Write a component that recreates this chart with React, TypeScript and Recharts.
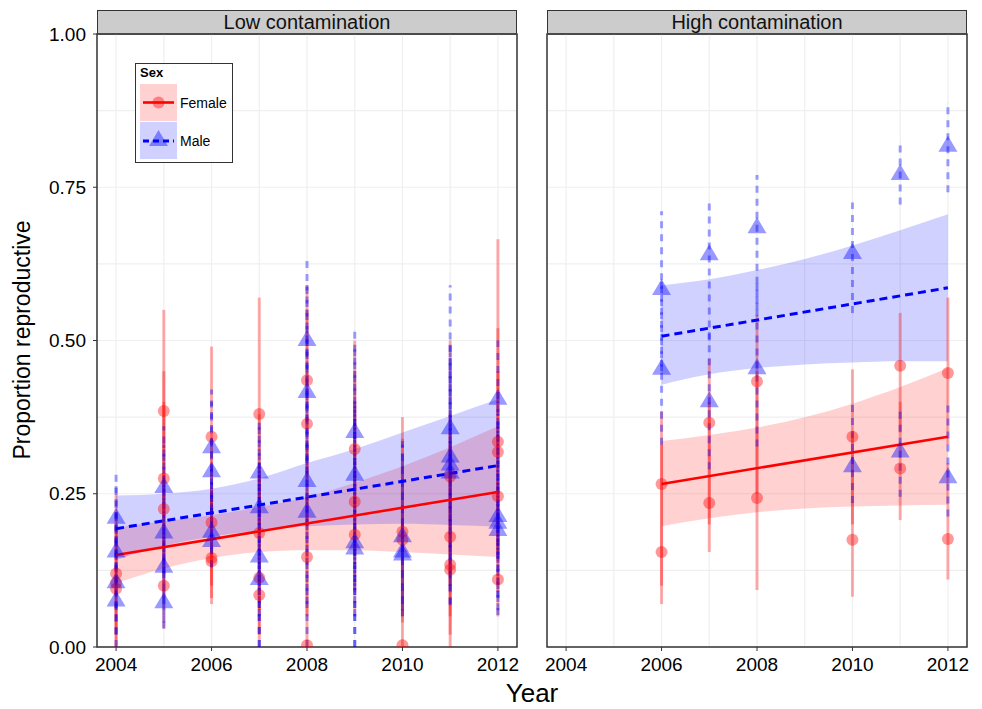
import React from "react";
import {
  ComposedChart,
  XAxis,
  YAxis,
  CartesianGrid,
  Scatter,
  ErrorBar,
  Area,
  Line,
  ReferenceArea,
} from "recharts";

// [year, estimate, lower, upper]
type Obs = [number, number, number, number];
// [year, lower, upper]
type Band = [number, number, number];
// [year, fitted]
type Fit = [number, number];

const yearTicks = [2004, 2006, 2008, 2010, 2012];
const yearGrid = [2004, 2005, 2006, 2007, 2008, 2009, 2010, 2011, 2012];
const propTicks = [0, 0.25, 0.5, 0.75, 1];
const propGrid = [0, 0.125, 0.25, 0.375, 0.5, 0.625, 0.75, 0.875, 1];

// Low contamination sites
const lowFemale: Obs[] = [
  [2004, 0.12, 0.0, 0.22], [2004, 0.105, 0.0, 0.25], [2004, 0.095, 0.02, 0.19],
  [2005, 0.385, 0.21, 0.55], [2005, 0.275, 0.12, 0.45], [2005, 0.225, 0.08, 0.4], [2005, 0.1, 0.03, 0.27],
  [2006, 0.343, 0.21, 0.49], [2006, 0.203, 0.1, 0.34], [2006, 0.145, 0.07, 0.26], [2006, 0.14, 0.08, 0.25],
  [2007, 0.38, 0.2, 0.57], [2007, 0.186, 0.06, 0.38], [2007, 0.113, 0.02, 0.3], [2007, 0.085, 0.0, 0.28],
  [2008, 0.435, 0.28, 0.59], [2008, 0.364, 0.2, 0.55], [2008, 0.147, 0.05, 0.33], [2008, 0.003, 0.0, 0.25],
  [2009, 0.323, 0.15, 0.5], [2009, 0.237, 0.09, 0.45], [2009, 0.183, 0.05, 0.4],
  [2010, 0.188, 0.05, 0.375], [2010, 0.175, 0.04, 0.34], [2010, 0.003, 0.0, 0.22],
  [2011, 0.278, 0.1, 0.5], [2011, 0.18, 0.05, 0.38], [2011, 0.134, 0.02, 0.35], [2011, 0.126, 0.0, 0.33],
  [2012, 0.335, 0.15, 0.665], [2012, 0.318, 0.14, 0.52], [2012, 0.246, 0.09, 0.45], [2012, 0.11, 0.05, 0.27],
];

const lowMale: Obs[] = [
  [2004, 0.21, 0.1, 0.29], [2004, 0.155, 0.06, 0.27], [2004, 0.105, 0.02, 0.22], [2004, 0.075, 0.0, 0.2],
  [2005, 0.26, 0.12, 0.36], [2005, 0.186, 0.07, 0.33], [2005, 0.13, 0.04, 0.28], [2005, 0.072, 0.03, 0.18],
  [2006, 0.325, 0.2, 0.42], [2006, 0.286, 0.16, 0.4], [2006, 0.187, 0.13, 0.3], [2006, 0.172, 0.13, 0.28],
  [2007, 0.284, 0.1, 0.37], [2007, 0.227, 0.05, 0.36], [2007, 0.147, 0.0, 0.3], [2007, 0.11, 0.0, 0.27],
  [2008, 0.5, 0.3, 0.635], [2008, 0.415, 0.2, 0.59], [2008, 0.27, 0.07, 0.5], [2008, 0.22, 0.0, 0.45],
  [2009, 0.35, 0.1, 0.515], [2009, 0.28, 0.05, 0.49], [2009, 0.17, 0.0, 0.4], [2009, 0.16, 0.0, 0.38],
  [2010, 0.18, 0.07, 0.346], [2010, 0.155, 0.05, 0.33], [2010, 0.15, 0.06, 0.31],
  [2011, 0.356, 0.12, 0.59], [2011, 0.31, 0.1, 0.5], [2011, 0.297, 0.07, 0.48], [2011, 0.284, 0.068, 0.46],
  [2012, 0.404, 0.15, 0.5], [2012, 0.213, 0.08, 0.4], [2012, 0.202, 0.06, 0.38], [2012, 0.19, 0.052, 0.36],
];

const lowFemaleBand: Band[] = [
  [2004, 0.104, 0.195], [2005, 0.128, 0.205], [2006, 0.145, 0.215], [2007, 0.155, 0.228],
  [2008, 0.158, 0.245], [2009, 0.158, 0.268], [2010, 0.155, 0.295], [2011, 0.151, 0.326], [2012, 0.147, 0.36],
];
const lowMaleBand: Band[] = [
  [2004, 0.142, 0.247], [2005, 0.165, 0.25], [2006, 0.18, 0.258], [2007, 0.19, 0.275],
  [2008, 0.197, 0.3], [2009, 0.2, 0.323], [2010, 0.201, 0.35], [2011, 0.199, 0.377], [2012, 0.196, 0.404],
];
const lowFemaleFit: Fit[] = [[2004, 0.15], [2012, 0.253]];
const lowMaleFit: Fit[] = [[2004, 0.193], [2012, 0.296]];

// High contamination sites
const highFemale: Obs[] = [
  [2006, 0.266, 0.1, 0.385], [2006, 0.155, 0.07, 0.33],
  [2007, 0.366, 0.2, 0.47], [2007, 0.235, 0.155, 0.4],
  [2008, 0.433, 0.25, 0.542], [2008, 0.243, 0.093, 0.45],
  [2010, 0.343, 0.2, 0.453], [2010, 0.175, 0.082, 0.35],
  [2011, 0.459, 0.35, 0.545], [2011, 0.291, 0.207, 0.4],
  [2012, 0.447, 0.33, 0.57], [2012, 0.176, 0.11, 0.3],
];
const highMale: Obs[] = [
  [2006, 0.583, 0.45, 0.711], [2006, 0.453, 0.33, 0.6],
  [2007, 0.64, 0.5, 0.727], [2007, 0.4, 0.29, 0.52],
  [2008, 0.684, 0.55, 0.77], [2008, 0.454, 0.327, 0.6],
  [2010, 0.642, 0.545, 0.725], [2010, 0.294, 0.235, 0.4],
  [2011, 0.771, 0.722, 0.82], [2011, 0.318, 0.245, 0.384],
  [2012, 0.817, 0.742, 0.887], [2012, 0.276, 0.213, 0.4],
];
const highFemaleBand: Band[] = [
  [2006, 0.197, 0.336], [2007, 0.21, 0.346], [2008, 0.22, 0.358], [2009, 0.226, 0.375],
  [2010, 0.229, 0.397], [2011, 0.231, 0.424], [2012, 0.232, 0.455],
];
const highMaleBand: Band[] = [
  [2006, 0.428, 0.59], [2007, 0.445, 0.6], [2008, 0.455, 0.615], [2009, 0.461, 0.633],
  [2010, 0.464, 0.655], [2011, 0.466, 0.68], [2012, 0.466, 0.706],
];
const highFemaleFit: Fit[] = [[2006, 0.266], [2012, 0.343]];
const highMaleFit: Fit[] = [[2006, 0.507], [2012, 0.586]];

const FONT = "'Liberation Sans', Arial, Helvetica, sans-serif";
const RED = "#ff0000";
const BLUE = "#0000ff";
const X_DOMAIN: [number, number] = [2003.6, 2012.4];

const toPoints = (rows: Obs[]) => rows.map(([year, v, lo, hi]) => ({ year, v, lo, hi }));
const toBand = (rows: Band[]) => rows.map(([year, lo, hi]) => ({ year, band: [lo, hi] }));
const toFit = (rows: Fit[]) => rows.map(([year, fit]) => ({ year, fit }));
const errRange = (d: any) => [d.v - d.lo, d.hi - d.v];

const Circle = (props: any) => {
  const { cx, cy } = props;
  if (cx == null || cy == null) return null;
  return <circle cx={cx} cy={cy} r={6} fill={RED} fillOpacity={0.4} />;
};

const Triangle = (props: any) => {
  const { cx, cy } = props;
  if (cx == null || cy == null) return null;
  const pts = `${cx},${cy - 10.5} ${cx - 9.5},${cy + 5.5} ${cx + 9.5},${cy + 5.5}`;
  return <polygon points={pts} fill={BLUE} fillOpacity={0.4} />;
};

type PanelProps = {
  title: string;
  left: number;
  width: number;
  marginLeft: number;
  marginRight: number;
  showY: boolean;
  female: Obs[];
  male: Obs[];
  femaleBand: Band[];
  maleBand: Band[];
  femaleFit: Fit[];
  maleFit: Fit[];
};

const Panel = (p: PanelProps) => {
  const plotLeft = p.showY ? 97 : p.marginLeft;
  const plotWidth = p.width - plotLeft - p.marginRight;
  return (
    <div style={{ position: "absolute", left: p.left, top: 0, width: p.width, height: 709 }}>
      <div
        style={{
          position: "absolute",
          left: plotLeft,
          top: 10,
          width: plotWidth - 2,
          height: 22,
          background: "#cccccc",
          border: "1px solid #333",
          borderBottom: "2px solid #333",
          fontFamily: FONT,
          fontSize: 20,
          lineHeight: "22px",
          textAlign: "center",
          color: "#111",
        }}
      >
        {p.title}
      </div>
      <ComposedChart
        width={p.width}
        height={709}
        margin={{ top: 34, right: p.marginRight, bottom: 22, left: p.showY ? 0 : p.marginLeft }}
        style={{ fontFamily: FONT }}
      >
        <CartesianGrid
          stroke="#efefef"
          strokeWidth={1.2}
          verticalValues={yearGrid}
          horizontalValues={propGrid}
        />
        <XAxis
          type="number"
          dataKey="year"
          domain={X_DOMAIN}
          ticks={yearTicks}
          allowDataOverflow
          axisLine={false}
          tickLine={{ stroke: "#333" }}
          tickSize={4}
          tickMargin={7}
          height={40}
          tick={{ fill: "#000", fontSize: 19 }}
        />
        <YAxis
          type="number"
          domain={[0, 1]}
          ticks={propTicks}
          allowDataOverflow
          hide={!p.showY}
          width={97}
          axisLine={false}
          tickLine={{ stroke: "#333" }}
          tickSize={4}
          tickMargin={7}
          tickFormatter={(v: number) => v.toFixed(2)}
          tick={{ fill: "#000", fontSize: 19 }}
        />
        <Scatter data={toPoints(p.female)} dataKey="v" shape={Circle} isAnimationActive={false}>
          <ErrorBar
            dataKey={errRange}
            direction="y"
            width={0}
            stroke={RED}
            strokeOpacity={0.32}
            strokeWidth={3}
            isAnimationActive={false}
          />
        </Scatter>
        <Scatter data={toPoints(p.male)} dataKey="v" shape={Triangle} isAnimationActive={false}>
          <ErrorBar
            dataKey={errRange}
            direction="y"
            width={0}
            stroke={BLUE}
            strokeOpacity={0.38}
            strokeWidth={3}
            strokeDasharray="7 6"
            isAnimationActive={false}
          />
        </Scatter>
        <Area
          data={toBand(p.femaleBand)}
          dataKey="band"
          type="monotone"
          stroke="none"
          fill={RED}
          fillOpacity={0.18}
          isAnimationActive={false}
        />
        <Area
          data={toBand(p.maleBand)}
          dataKey="band"
          type="monotone"
          stroke="none"
          fill={BLUE}
          fillOpacity={0.18}
          isAnimationActive={false}
        />
        <Line
          data={toFit(p.femaleFit)}
          dataKey="fit"
          stroke={RED}
          strokeWidth={2.6}
          dot={false}
          isAnimationActive={false}
        />
        <Line
          data={toFit(p.maleFit)}
          dataKey="fit"
          stroke={BLUE}
          strokeWidth={3}
          strokeDasharray="8 5"
          dot={false}
          isAnimationActive={false}
        />
        <ReferenceArea
          x1={X_DOMAIN[0]}
          x2={X_DOMAIN[1]}
          y1={0}
          y2={1}
          fill="none"
          stroke="#333"
          strokeWidth={1.5}
        />
      </ComposedChart>
    </div>
  );
};

const SexLegend = () => (
  <div
    style={{
      position: "absolute",
      left: 135,
      top: 63,
      width: 96,
      height: 98,
      border: "1px solid #333",
      background: "#fff",
      fontFamily: FONT,
      color: "#000",
    }}
  >
    <div style={{ position: "absolute", left: 4, top: 1, fontWeight: "bold", fontSize: 13 }}>Sex</div>
    <svg style={{ position: "absolute", left: 4, top: 20 }} width={38} height={76}>
      <rect x={0} y={0} width={37} height={37} fill={RED} fillOpacity={0.18} />
      <circle cx={18.5} cy={18.5} r={6} fill={RED} fillOpacity={0.4} />
      <line x1={3} y1={18.5} x2={34} y2={18.5} stroke={RED} strokeWidth={2.6} />
      <rect x={0} y={38} width={37} height={37} fill={BLUE} fillOpacity={0.18} />
      <polygon points="18.5,46 9,62 28,62" fill={BLUE} fillOpacity={0.4} />
      <line x1={3} y1={57} x2={34} y2={57} stroke={BLUE} strokeWidth={3} strokeDasharray="6 4" />
    </svg>
    <div style={{ position: "absolute", left: 44, top: 31, fontSize: 14 }}>Female</div>
    <div style={{ position: "absolute", left: 44, top: 69, fontSize: 14 }}>Male</div>
  </div>
);

export default function App() {
  return (
    <div style={{ position: "absolute", left: 0, top: 0, width: 982, height: 709, background: "#fff" }}>
      <Panel
        title="Low contamination"
        left={0}
        width={530}
        marginLeft={0}
        marginRight={13}
        showY
        female={lowFemale}
        male={lowMale}
        femaleBand={lowFemaleBand}
        maleBand={lowMaleBand}
        femaleFit={lowFemaleFit}
        maleFit={lowMaleFit}
      />
      <Panel
        title="High contamination"
        left={530}
        width={452}
        marginLeft={17}
        marginRight={15}
        showY={false}
        female={highFemale}
        male={highMale}
        femaleBand={highFemaleBand}
        maleBand={highMaleBand}
        femaleFit={highFemaleFit}
        maleFit={highMaleFit}
      />
      <SexLegend />
      <div
        style={{
          position: "absolute",
          left: 22,
          top: 340,
          transform: "translate(-50%, -50%) rotate(-90deg)",
          whiteSpace: "nowrap",
          fontFamily: FONT,
          fontSize: 23,
          color: "#000",
        }}
      >
        Proportion reproductive
      </div>
      <div
        style={{
          position: "absolute",
          left: 532,
          top: 693,
          transform: "translate(-50%, -50%)",
          fontFamily: FONT,
          fontSize: 26,
          color: "#000",
        }}
      >
        Year
      </div>
    </div>
  );
}
